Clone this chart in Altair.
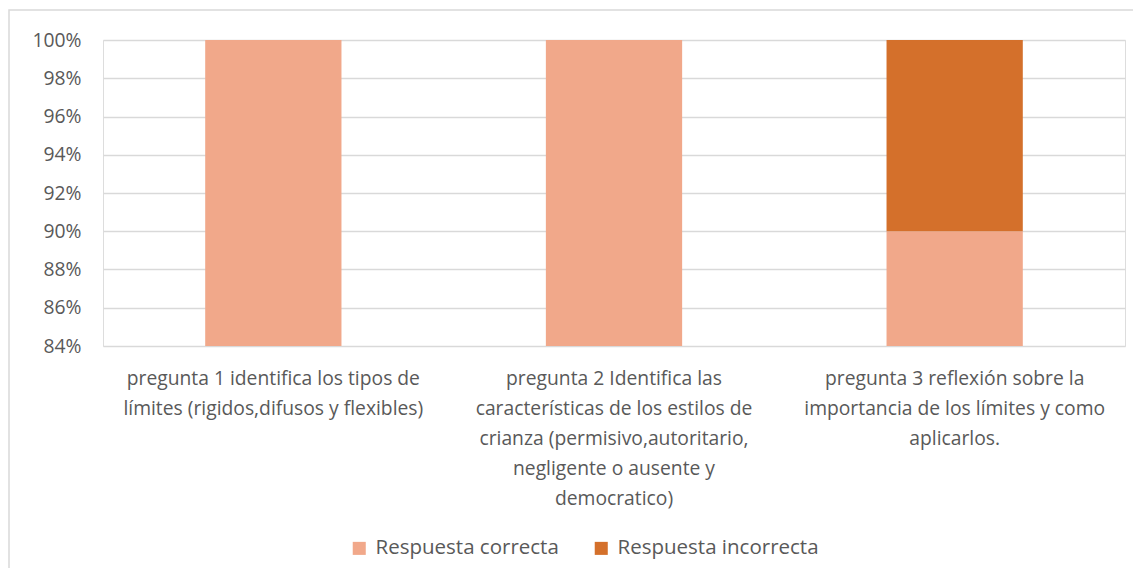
import altair as alt
import pandas as pd

categories = [
    "pregunta 1 identifica los tipos de|límites (rigidos,difusos y flexibles)",
    "pregunta 2 Identifica las|características de los estilos de|crianza (permisivo,autoritario,|negligente o ausente y|democratico)",
    "pregunta 3 reflexión sobre la|importancia de los límites y como|aplicarlos.",
]
series = ["Respuesta correcta", "Respuesta incorrecta"]
correct = [1.00, 1.00, 0.90]
incorrect = [0.00, 0.00, 0.10]
colors = ["#F1A88A", "#D4702B"]

rows = []
for i, c in enumerate(categories):
    rows.append({"cat": c, "serie": series[0], "val": correct[i], "ord": 0})
    rows.append({"cat": c, "serie": series[1], "val": incorrect[i], "ord": 1})
df = pd.DataFrame(rows)

FONT = "Open Sans"
TXT = "#595959"
FS = 19.3

frame = alt.Chart(pd.DataFrame({"a": [0]})).mark_rect(
    fill=None, fillOpacity=0, stroke="#D9D9D9", strokeWidth=1.5
).encode(x=alt.value(-94), x2=alt.value(1060), y=alt.value(-30), y2=alt.value(560))

bars = alt.Chart(df).mark_bar(clip=True).encode(
    x=alt.X("cat:N", sort=categories,
            scale=alt.Scale(paddingInner=0.6, paddingOuter=0.3),
            axis=alt.Axis(title=None, labelAngle=0, labelExpr="split(datum.label, '|')",
                          labelLimit=0, labelFont=FONT, labelFontSize=FS, labelColor=TXT,
                          labelLineHeight=30, labelPadding=23, ticks=False, domain=False,
                          labelBaseline="top")),
    y=alt.Y("val:Q", stack="zero", scale=alt.Scale(domain=[0.84, 1.0], nice=False, zero=False),
            axis=alt.Axis(title=None, format=".0%", values=[0.84, 0.86, 0.88, 0.90, 0.92, 0.94, 0.96, 0.98, 1.0],
                          labelFont=FONT, labelFontSize=FS, labelColor=TXT, labelPadding=22,
                          ticks=False, domain=False, gridColor="#D9D9D9", gridWidth=1.5)),
    color=alt.Color("serie:N", scale=alt.Scale(domain=series, range=colors),
                    legend=alt.Legend(title=None, orient="none", direction="horizontal",
                                      legendX=246, legendY=498, symbolType="square",
                                      symbolSize=170, symbolStrokeWidth=0, labelLimit=0,
                                      labelFont=FONT, labelFontSize=20.5, labelColor=TXT,
                                      columnPadding=32, labelOffset=6)),
    order=alt.Order("ord:Q", sort="ascending"),
)

chart = alt.layer(frame, bars).properties(
    width=1022, height=306,
    autosize=alt.AutoSizeParams(type="none"),
    padding={"left": 95, "top": 32, "right": 8, "bottom": 222},
).configure_view(stroke=None).configure(background="white")

chart.save("out.html", embed_options={"renderer": "svg", "actions": False})
